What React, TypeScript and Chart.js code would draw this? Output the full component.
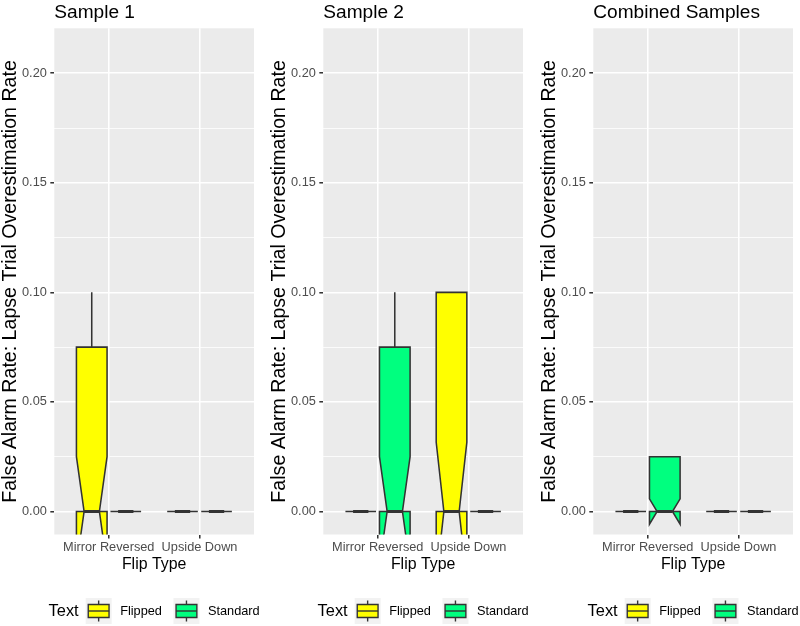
import React, { useEffect, useRef } from 'react';
import { Chart, registerables } from 'chart.js';

Chart.register(...registerables);

// ---------- data ----------
const categories = ['Mirror Reversed', 'Upside Down'];
const groups = ['Flipped', 'Standard'];
const panelTitles = ['Sample 1', 'Sample 2', 'Combined Samples'];
const yMajorTicks = [0, 0.05, 0.1, 0.15, 0.2];
const yMinorTicks = [0.025, 0.075, 0.125, 0.175];
const yTickLabels = ['0.00', '0.05', '0.10', '0.15', '0.20'];

// box statistics per category:
// [lowerWhisker, lowerHinge, median, upperHinge, upperWhisker, notchLower, notchUpper]
const sample1Flipped = [
  [0, 0, 0, 0.075, 0.1, -0.025, 0.025],
  [0, 0, 0, 0, 0, 0, 0],
];
const sample1Standard = [
  [0, 0, 0, 0, 0, 0, 0],
  [0, 0, 0, 0, 0, 0, 0],
];
const sample2Flipped = [
  [0, 0, 0, 0, 0, 0, 0],
  [0, 0, 0, 0.1, 0.1, -0.0316, 0.0316],
];
const sample2Standard = [
  [0, 0, 0, 0.075, 0.1, -0.025, 0.025],
  [0, 0, 0, 0, 0, 0, 0],
];
const combinedFlipped = [
  [0, 0, 0, 0, 0, 0, 0],
  [0, 0, 0, 0, 0, 0, 0],
];
const combinedStandard = [
  [0, 0, 0, 0.025, 0.025, -0.0058, 0.0058],
  [0, 0, 0, 0, 0, 0, 0],
];

const panelSeries = [
  [sample1Flipped, sample1Standard],
  [sample2Flipped, sample2Standard],
  [combinedFlipped, combinedStandard],
];

// ---------- style ----------
const FAMILY = '"Liberation Sans", Arial, Helvetica, sans-serif';
const groupColors = ['#FFFF00', '#00FF7F'];
const OUTLINE = '#333333';
const PANEL_BG = '#EBEBEB';
const KEY_BG = '#F2F2F2';
const LW = 1.54;
const PANEL_OFFSETS = [0, 269, 539];
const CANVAS_W = 261;
const CANVAS_H = 626;
const Y_MIN = -0.0105;
const Y_MAX = 0.2205;
const X_MIN = 0.4;
const X_MAX = 2.6;
const DODGE = 0.1875;
const BOX_W = 0.3375;
const NOTCH_W = 0.5;

const isMajor = (v: number) => yMajorTicks.some((m) => Math.abs(m - v) < 1e-9);

const makePlugin = (panelIndex: number) => ({
  id: 'ggpanel' + panelIndex,
  beforeDraw(chart: any) {
    const { ctx, chartArea: a } = chart;
    ctx.save();
    ctx.fillStyle = PANEL_BG;
    ctx.fillRect(a.left, a.top, a.right - a.left, a.bottom - a.top);
    ctx.restore();
  },
  afterDatasetsDraw(chart: any) {
    const { ctx, chartArea: a } = chart;
    const xs = chart.scales.x;
    const ys = chart.scales.y;
    const py = (v: number) => ys.getPixelForValue(v);
    ctx.save();
    ctx.beginPath();
    ctx.rect(a.left, a.top, a.right - a.left, a.bottom - a.top);
    ctx.clip();
    const series = panelSeries[panelIndex];
    categories.forEach((_, ci) => {
      series.forEach((stats, gi) => {
        const [wLo, q1, med, q3, wHi, nLo, nHi] = stats[ci];
        const center = ci + 1 + (gi === 0 ? -DODGE : DODGE);
        const xc = xs.getPixelForValue(center);
        const xmin = xs.getPixelForValue(center - BOX_W / 2);
        const xmax = xs.getPixelForValue(center + BOX_W / 2);
        const indent = ((xmax - xmin) * (1 - NOTCH_W)) / 2;
        ctx.strokeStyle = OUTLINE;
        ctx.lineCap = 'butt';
        ctx.lineJoin = 'miter';
        // whiskers
        ctx.lineWidth = LW;
        ctx.beginPath();
        ctx.moveTo(xc, py(q3));
        ctx.lineTo(xc, py(wHi));
        ctx.moveTo(xc, py(q1));
        ctx.lineTo(xc, py(wLo));
        ctx.stroke();
        // notched box
        ctx.beginPath();
        ctx.moveTo(xmin, py(q1));
        ctx.lineTo(xmin, py(nLo));
        ctx.lineTo(xmin + indent, py(med));
        ctx.lineTo(xmin, py(nHi));
        ctx.lineTo(xmin, py(q3));
        ctx.lineTo(xmax, py(q3));
        ctx.lineTo(xmax, py(nHi));
        ctx.lineTo(xmax - indent, py(med));
        ctx.lineTo(xmax, py(nLo));
        ctx.lineTo(xmax, py(q1));
        ctx.closePath();
        ctx.fillStyle = groupColors[gi];
        ctx.fill();
        ctx.stroke();
        // median
        ctx.lineWidth = LW * 2;
        ctx.beginPath();
        ctx.moveTo(xmin + indent, py(med));
        ctx.lineTo(xmax - indent, py(med));
        ctx.stroke();
      });
    });
    ctx.restore();
  },
  afterDraw(chart: any) {
    const { ctx, chartArea: a } = chart;
    ctx.save();
    // plot title
    ctx.fillStyle = '#000000';
    ctx.font = `19.1px ${FAMILY}`;
    ctx.textAlign = 'left';
    ctx.textBaseline = 'alphabetic';
    ctx.fillText(panelTitles[panelIndex], a.left, 17.5);

    // legend
    const titleFont = `16.4px ${FAMILY}`;
    const labelFont = `12.75px ${FAMILY}`;
    const KEY = 26;
    const G_TITLE = 7;
    const G_LABEL = 8.5;
    const G_ITEM = 11.5;
    ctx.font = titleFont;
    const tw = ctx.measureText('Text').width;
    ctx.font = labelFont;
    const lw = groups.map((g) => ctx.measureText(g).width);
    let total = tw + G_TITLE;
    groups.forEach((_, i) => {
      total += KEY + G_LABEL + lw[i];
      if (i < groups.length - 1) total += G_ITEM;
    });
    const cy = 611;
    let x = (a.left + a.right) / 2 - total / 2;
    ctx.textBaseline = 'middle';
    ctx.font = titleFont;
    ctx.fillStyle = '#000000';
    ctx.fillText('Text', x, cy);
    x += tw + G_TITLE;
    groups.forEach((g, i) => {
      const kx = x;
      const ky = cy - KEY / 2;
      ctx.fillStyle = KEY_BG;
      ctx.fillRect(kx, ky, KEY, KEY);
      ctx.strokeStyle = OUTLINE;
      ctx.lineWidth = LW * 0.9;
      const mx = kx + KEY / 2;
      ctx.beginPath();
      ctx.moveTo(mx, ky + KEY * 0.1);
      ctx.lineTo(mx, ky + KEY * 0.25);
      ctx.moveTo(mx, ky + KEY * 0.75);
      ctx.lineTo(mx, ky + KEY * 0.9);
      ctx.stroke();
      ctx.fillStyle = groupColors[i];
      ctx.beginPath();
      ctx.rect(kx + KEY * 0.1, ky + KEY * 0.25, KEY * 0.8, KEY * 0.5);
      ctx.fill();
      ctx.stroke();
      ctx.beginPath();
      ctx.moveTo(kx + KEY * 0.1, cy);
      ctx.lineTo(kx + KEY * 0.9, cy);
      ctx.stroke();
      x += KEY + G_LABEL;
      ctx.fillStyle = '#000000';
      ctx.font = labelFont;
      ctx.fillText(g, x, cy);
      x += lw[i] + G_ITEM;
    });
    ctx.restore();
  },
});

const makeConfig = (panelIndex: number): any => ({
  type: 'scatter',
  data: { datasets: [] },
  options: {
    animation: false,
    responsive: false,
    events: [],
    layout: { padding: { left: 0, top: 28.3, right: 7, bottom: 52 } },
    plugins: {
      legend: { display: false },
      tooltip: { enabled: false },
      title: { display: false },
    },
    scales: {
      x: {
        type: 'linear',
        min: X_MIN,
        max: X_MAX,
        afterBuildTicks: (s: any) => {
          s.ticks = categories.map((_, i) => ({ value: i + 1 }));
        },
        afterFit: (s: any) => {
          s.height = 39.5;
        },
        ticks: {
          autoSkip: false,
          maxRotation: 0,
          minRotation: 0,
          color: '#4D4D4D',
          padding: 1.2,
          font: { family: FAMILY, size: 12.75 },
          callback: (v: number) => categories[Math.round(v) - 1],
        },
        grid: {
          color: '#FFFFFF',
          lineWidth: LW,
          tickLength: 3.98,
          tickColor: OUTLINE,
          tickWidth: LW,
        },
        border: { display: false },
        title: {
          display: true,
          text: 'Flip Type',
          color: '#000000',
          font: { family: FAMILY, size: 15.9 },
          padding: { top: 0, bottom: 0 },
        },
      },
      y: {
        type: 'linear',
        min: Y_MIN,
        max: Y_MAX,
        afterBuildTicks: (s: any) => {
          s.ticks = [...yMajorTicks, ...yMinorTicks]
            .sort((p, q) => p - q)
            .map((v) => ({ value: v }));
        },
        afterFit: (s: any) => {
          s.width = 54.3;
        },
        ticks: {
          autoSkip: false,
          color: '#4D4D4D',
          padding: 3.5,
          font: { family: FAMILY, size: 12.75 },
          callback: (v: number) => {
            const i = yMajorTicks.findIndex((m) => Math.abs(m - v) < 1e-9);
            return i >= 0 ? yTickLabels[i] : '';
          },
        },
        grid: {
          color: '#FFFFFF',
          lineWidth: (c: any) => (c.tick && isMajor(c.tick.value) ? LW : LW / 2),
          tickLength: 3.98,
          tickColor: (c: any) => (c.tick && isMajor(c.tick.value) ? OUTLINE : 'rgba(0,0,0,0)'),
          tickWidth: LW,
        },
        border: { display: false },
        title: {
          display: true,
          text: 'False Alarm Rate: Lapse Trial Overestimation Rate',
          color: '#000000',
          font: { family: FAMILY, size: 19.6, lineHeight: 1.1 },
          padding: { top: 0, bottom: 0 },
        },
      },
    },
  },
  plugins: [makePlugin(panelIndex)],
});

function Panel({ index }: { index: number }) {
  const ref = useRef<HTMLCanvasElement>(null);
  useEffect(() => {
    if (!ref.current) return;
    const chart = new Chart(ref.current, makeConfig(index));
    return () => chart.destroy();
  }, [index]);
  return (
    <canvas
      ref={ref}
      width={CANVAS_W}
      height={CANVAS_H}
      style={{
        position: 'absolute',
        left: PANEL_OFFSETS[index],
        top: 0,
        width: CANVAS_W,
        height: CANVAS_H,
      }}
    />
  );
}

export default function App() {
  return (
    <div
      style={{
        position: 'fixed',
        left: 0,
        top: 0,
        width: 800,
        height: 626,
        overflow: 'hidden',
        background: '#FFFFFF',
      }}
    >
      {panelTitles.map((_, i) => (
        <Panel key={i} index={i} />
      ))}
    </div>
  );
}
